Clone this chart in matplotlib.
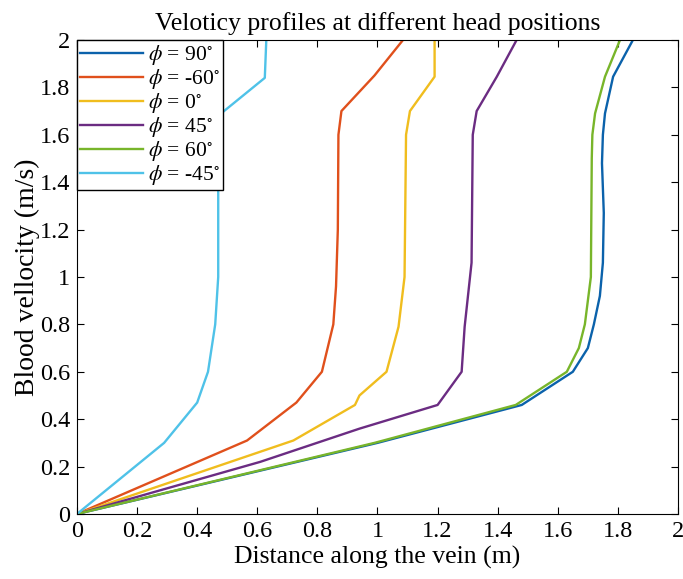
import matplotlib
matplotlib.use("Agg")
import matplotlib.pyplot as plt

plt.rcParams['font.family'] = ['Liberation Serif', 'DejaVu Serif']
plt.rcParams['mathtext.fontset'] = 'stix'

labels = ["$\\phi$ = 90$^{\\circ}$", "$\\phi$ = -60$^{\\circ}$", "$\\phi$ = 0$^{\\circ}$",
          "$\\phi$ = 45$^{\\circ}$", "$\\phi$ = 60$^{\\circ}$", "$\\phi$ = -45$^{\\circ}$"]
colors = ['#0b62ab', '#e0501c', '#f0bd1e', '#6b2c82', '#78b52a', '#4fc2e8']

vel_90 = [0, 0.3, 0.46, 0.6, 0.7, 0.8, 0.92, 1.06, 1.27, 1.48, 1.6, 1.69, 1.845, 2.0]
dist_90 = [0, 1.0, 1.48, 1.65, 1.70, 1.72, 1.74, 1.75, 1.753, 1.747, 1.75, 1.757, 1.784, 1.85]

vel_m60 = [0, 0.31, 0.47, 0.6, 0.8, 0.96, 1.2, 1.6, 1.65, 1.70, 1.85, 2.0]
dist_m60 = [0, 0.566, 0.73, 0.815, 0.853, 0.862, 0.868, 0.87, 0.875, 0.88, 0.99, 1.085]

vel_0 = [0, 0.31, 0.46, 0.5, 0.6, 0.79, 1.0, 1.6, 1.70, 1.845, 2.0]
dist_0 = [0, 0.72, 0.925, 0.94, 1.03, 1.07, 1.09, 1.095, 1.108, 1.19, 1.19]

vel_45 = [0, 0.22, 0.36, 0.46, 0.6, 0.79, 1.06, 1.6, 1.70, 1.845, 2.0]
dist_45 = [0, 0.61, 0.94, 1.2, 1.28, 1.29, 1.313, 1.317, 1.33, 1.397, 1.463]

vel_60 = [0, 0.3, 0.46, 0.6, 0.7, 0.8, 1.0, 1.5, 1.6, 1.69, 1.845, 2.0]
dist_60 = [0, 0.99, 1.46, 1.63, 1.67, 1.69, 1.71, 1.713, 1.715, 1.724, 1.757, 1.807]

vel_m45 = [0, 0.3, 0.47, 0.6, 0.8, 1.0, 1.68, 1.84, 2.0]
dist_m45 = [0, 0.29, 0.40, 0.436, 0.46, 0.47, 0.47, 0.625, 0.63]

series = [(dist_90, vel_90), (dist_m60, vel_m60), (dist_0, vel_0),
          (dist_45, vel_45), (dist_60, vel_60), (dist_m45, vel_m45)]

ticks = [0, 0.2, 0.4, 0.6, 0.8, 1, 1.2, 1.4, 1.6, 1.8, 2]
tick_labels = ["0", "0.2", "0.4", "0.6", "0.8", "1", "1.2", "1.4", "1.6", "1.8", "2"]

fig = plt.figure(figsize=(6.83, 5.79), dpi=100)
ax = fig.add_axes([0.1127, 0.1123, 0.88, 0.8187])

for (x, y), c, lab in zip(series, colors, labels):
    ax.plot(x, y, color=c, lw=1.7, label=lab)

ax.set_xlim(0, 2)
ax.set_ylim(0, 2)
ax.set_xticks(ticks)
ax.set_xticklabels(tick_labels)
ax.set_yticks(ticks)
ax.set_yticklabels(tick_labels)
ax.tick_params(direction='in', top=True, right=True, labelsize=17.5, length=5, width=0.8, pad=5)
for s in ax.spines.values():
    s.set_linewidth(0.8)

ax.set_title("Veloticy profiles at different head positions", fontsize=18.5, pad=7)
ax.set_xlabel("Distance along the vein (m)", fontsize=18.5, labelpad=3)
ax.set_ylabel("Blood vellocity (m/s)", fontsize=20, labelpad=0)

leg = ax.legend(loc='upper left', borderaxespad=0, fancybox=False, framealpha=1,
                edgecolor='black', fontsize=15.5, handlelength=2.9, labelspacing=0.0,
                handletextpad=0.25, borderpad=0.15)
leg.get_frame().set_linewidth(1.0)

fig.savefig("out.png", dpi=100)
